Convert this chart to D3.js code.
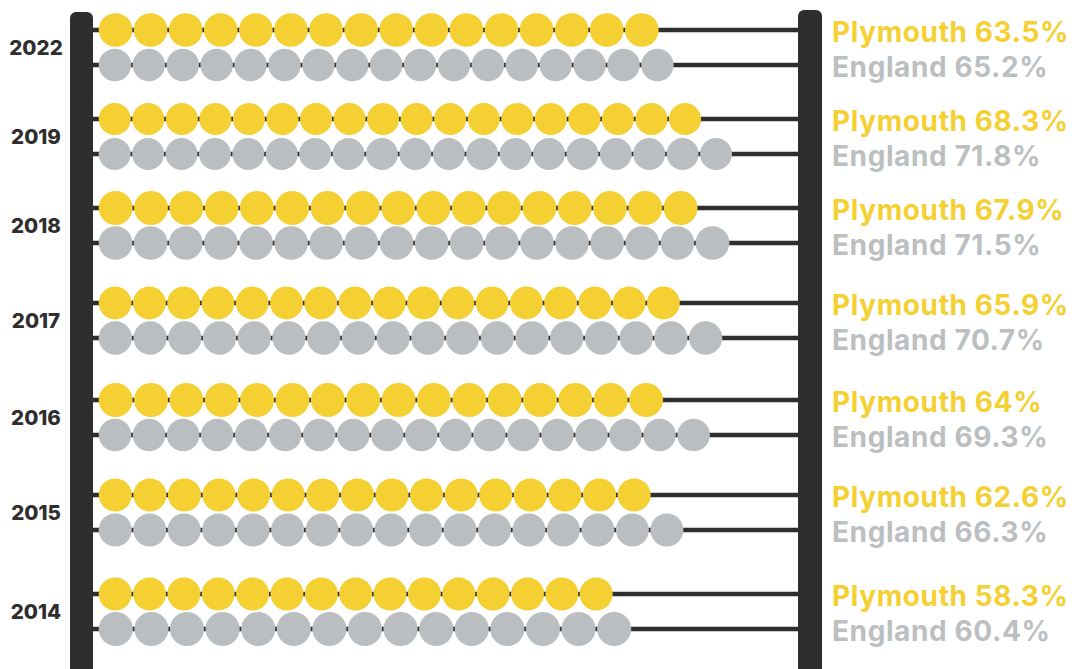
<!DOCTYPE html>
<html>
<head>
<meta charset="utf-8">
<script src="https://cdn.jsdelivr.net/npm/d3@7"></script>
<style>
  html, body { margin: 0; padding: 0; background: #ffffff; }
  svg { display: block; }
</style>
</head>
<body>
<div id="chart"></div>
<script>
// ---- data ----
const years = ["2022", "2019", "2018", "2017", "2016", "2015", "2014"];
const plymouthValues = [63.5, 68.3, 67.9, 65.9, 64, 62.6, 58.3];
const englandValues = [65.2, 71.8, 71.5, 70.7, 69.3, 66.3, 60.4];
const plymouthBeads = [16, 18, 17, 17, 16, 16, 15];
const englandBeads = [17, 19, 18, 18, 18, 17, 15];
const seriesNames = ["Plymouth", "England"];

// ---- layout / style ----
const W = 1074, H = 669;
const colors = { Plymouth: "#f5d032", England: "#bbbec1" };
const textColors = { Plymouth: "#f4d033", England: "#bcbfc2" };
const dark = "#2e2e2e";

const svg = d3.select("#chart").append("svg")
  .attr("width", W).attr("height", H);

// horizontal scale: percentage -> x
const x = d3.scaleLinear().domain([0, 100]).range([98, 982]);
// row scale: year -> y of the Plymouth rod
const rowY = d3.scaleOrdinal().domain(years).range([30, 119, 208, 303, 400, 495, 594]);
const rodGap = 35;
const seriesOffset = d3.scaleOrdinal().domain(seriesNames).range([0, rodGap]);

const rows = [];
years.forEach((yr, i) => {
  rows.push({ year: yr, series: "Plymouth", value: plymouthValues[i], beads: plymouthBeads[i] });
  rows.push({ year: yr, series: "England", value: englandValues[i], beads: englandBeads[i] });
});

const postL = { x: 70, w: 23, top: 12 };
const postR = { x: 798, w: 24, top: 10 };

// rods
svg.append("g").selectAll("line").data(rows).join("line")
  .attr("x1", postL.x + postL.w - 2)
  .attr("x2", postR.x + 2)
  .attr("y1", d => rowY(d.year) + seriesOffset(d.series))
  .attr("y2", d => rowY(d.year) + seriesOffset(d.series))
  .attr("stroke", dark)
  .attr("stroke-width", 4.5);

// beads
const beadData = [];
rows.forEach(r => {
  const width = x(r.value) - x(0);
  const step = width / r.beads;
  d3.range(r.beads).forEach(k => {
    beadData.push({
      cx: x(0) + step * (k + 0.5),
      cy: rowY(r.year) + seriesOffset(r.series),
      r: (step - 1.4) / 2,
      series: r.series
    });
  });
});
svg.append("g").selectAll("circle").data(beadData).join("circle")
  .attr("cx", d => d.cx)
  .attr("cy", d => d.cy)
  .attr("r", d => d.r)
  .attr("fill", d => colors[d.series]);

// posts
svg.append("rect")
  .attr("x", postL.x).attr("y", postL.top)
  .attr("width", postL.w).attr("height", H - postL.top + 8)
  .attr("rx", 6).attr("fill", dark);
svg.append("rect")
  .attr("x", postR.x).attr("y", postR.top)
  .attr("width", postR.w).attr("height", H - postR.top + 8)
  .attr("rx", 6).attr("fill", dark);

// year labels
svg.append("g").selectAll("text").data(years).join("text")
  .attr("x", 36)
  .attr("y", d => rowY(d) + rodGap / 2 + 7.5)
  .attr("text-anchor", "middle")
  .attr("font-family", "Inter, 'Noto Sans', sans-serif")
  .attr("font-weight", 800)
  .attr("font-size", 20.5)
  .attr("fill", dark)
  .text(d => d);

// value labels
svg.append("g").selectAll("text").data(rows).join("text")
  .attr("x", 832)
  .attr("y", d => rowY(d.year) + seriesOffset(d.series) + 11.5)
  .attr("font-family", "Inter, 'Noto Sans', sans-serif")
  .attr("font-weight", 700)
  .attr("font-size", 28)
  .attr("letter-spacing", 0.6)
  .attr("fill", d => textColors[d.series])
  .text(d => `${d.series} ${d.value}%`);
</script>
</body>
</html>
